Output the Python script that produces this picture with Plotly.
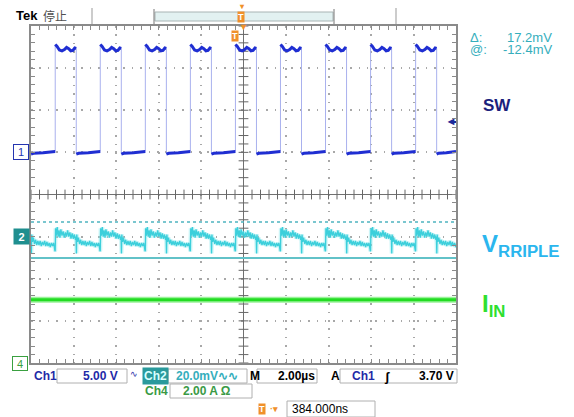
import numpy as np
import plotly.graph_objects as go

# Horizontal: 2.00 us/div, 10 divisions, centre of screen = 0 us
TIME_RANGE_US = [-10.0, 10.0]
DIV_RANGE = [-4.0, 4.0]

# Ch1 (SW node), 5.00 V/div, ground marker at +1 div
CH1_V_PER_DIV = 5.0
CH1_POS_DIV = 1.0
CH1_TRIG_V = 3.70
sw_rise_us = [-8.86, -6.74, -4.62, -2.50, -0.38, 1.74, 3.86, 5.98, 8.10]
sw_fall_us = [-7.87, -5.75, -3.63, -1.51, 0.61, 2.73, 4.85, 6.97, 9.09]
sw_high_phase = [0.00, 0.08, 0.20, 0.32, 0.44, 0.54, 0.64, 0.74, 0.84, 0.93, 1.00]
sw_high_v = [12.8, 12.6, 12.15, 12.05, 12.2, 12.45, 12.3, 12.05, 12.1, 12.4, 12.35]
sw_low_phase = [0.0, 0.1, 0.5, 0.9, 1.0]
sw_low_v = [-0.2, -0.1, -0.05, 0.05, 0.1]

# Ch2 (output ripple, AC), 20.0 mV/div, ground marker at -1 div
CH2_MV_PER_DIV = 20.0
CH2_POS_DIV = -1.0
ripple_phase = [0.000, 0.008, 0.025, 0.045, 0.065, 0.085, 0.105, 0.125, 0.150, 0.175,
                0.200, 0.225, 0.250, 0.275, 0.300, 0.325, 0.350, 0.375, 0.400, 0.425,
                0.450, 0.462, 0.470, 0.478, 0.495, 0.515, 0.540, 0.565, 0.590, 0.615,
                0.640, 0.665, 0.690, 0.715, 0.740, 0.765, 0.790, 0.815, 0.840, 0.865,
                0.890, 0.915, 0.940, 0.965, 0.985, 0.995]
ripple_mv = [-6.5, 4.0, 0.5, 4.5, 0.0, 3.0, -0.5, 3.5, 0.5, 2.5,
             -0.5, 2.0, 0.0, 3.0, 0.0, 2.0, -1.0, 1.5, -1.0, 1.0,
             -1.5, 0.0, -8.0, 1.0, -2.5, -0.5, -3.5, -1.5, -4.0, -2.0,
             -4.0, -2.0, -4.5, -2.5, -4.0, -2.0, -4.5, -2.5, -4.5, -3.0,
             -5.0, -3.0, -4.5, -3.0, -5.0, -7.0]
cursor_top_mv = 7.0
cursor_bot_mv = -10.2

# Ch4 (input current), 2.00 A/div, ground marker at -4 div
CH4_A_PER_DIV = 2.0
CH4_POS_DIV = -4.0
iin_t_us = [-10.0, 10.0]
iin_a = [3.0, 3.0]

# ---------------- build traces ----------------
def ch1(v):
    return CH1_POS_DIV + v / CH1_V_PER_DIV

def ch2(mv):
    return CH2_POS_DIV + mv / CH2_MV_PER_DIV

def ch4(a):
    return CH4_POS_DIV + a / CH4_A_PER_DIV

lx, ly = [], []
starts = [TIME_RANGE_US[0]] + sw_fall_us
ends = sw_rise_us + [TIME_RANGE_US[1]]
for s, e in zip(starts, ends):
    for p, v in zip(sw_low_phase, sw_low_v):
        lx.append(s + p * (e - s)); ly.append(ch1(v))
    lx.append(None); ly.append(None)
for r, f in zip(sw_rise_us, sw_fall_us):
    for p, v in zip(sw_high_phase, sw_high_v):
        lx.append(r + p * (f - r)); ly.append(ch1(v))
    lx.append(None); ly.append(None)

ex, ey = [], []
for r in sw_rise_us:
    ex += [r, r, None]; ey += [ch1(sw_low_v[-1]), ch1(sw_high_v[0]), None]
for f in sw_fall_us:
    ex += [f, f, None]; ey += [ch1(sw_high_v[-1]), ch1(sw_low_v[0]), None]

period = sw_rise_us[1] - sw_rise_us[0]
rx, ry = [], []
for r in [sw_rise_us[0] - period] + sw_rise_us:
    for p, m in zip(ripple_phase, ripple_mv):
        rx.append(r + p * period); ry.append(ch2(m))

fig = go.Figure()

# centre crosshair tick marks
xt = np.arange(TIME_RANGE_US[0], TIME_RANGE_US[1] + 1e-9, 0.4)
yt = np.arange(DIV_RANGE[0], DIV_RANGE[1] + 1e-9, 0.2)
fig.add_trace(go.Scatter(x=xt, y=np.zeros_like(xt), mode="markers",
                         marker=dict(symbol="line-ns", size=7, line=dict(width=1, color="#666666"))))
fig.add_trace(go.Scatter(x=np.zeros_like(yt), y=yt, mode="markers",
                         marker=dict(symbol="line-ew", size=7, line=dict(width=1, color="#666666"))))

# cursors
fig.add_trace(go.Scatter(x=TIME_RANGE_US, y=[ch2(cursor_top_mv)] * 2, mode="lines",
                         line=dict(color="#4fb4c0", width=1.5, dash="3px,3px")))
fig.add_trace(go.Scatter(x=TIME_RANGE_US, y=[ch2(cursor_bot_mv)] * 2, mode="lines",
                         line=dict(color="#62c2c8", width=2)))

# Ch4
fig.add_trace(go.Scatter(x=iin_t_us, y=[ch4(a) for a in iin_a], mode="lines",
                         line=dict(color="rgba(120,238,120,0.75)", width=6)))
fig.add_trace(go.Scatter(x=iin_t_us, y=[ch4(a) for a in iin_a], mode="lines",
                         line=dict(color="#22dc22", width=3)))

# Ch2 ripple
fig.add_trace(go.Scatter(x=rx, y=ry, mode="lines",
                         line=dict(color="rgba(140,232,238,0.45)", width=4)))
fig.add_trace(go.Scatter(x=rx, y=ry, mode="lines",
                         line=dict(color="#3ccfdb", width=1.3)))

# Ch1 SW
fig.add_trace(go.Scatter(x=ex, y=ey, mode="lines",
                         line=dict(color="#a9b1ee", width=1)))
fig.add_trace(go.Scatter(x=lx, y=ly, mode="lines",
                         line=dict(color="#1f2ed2", width=3)))

# ---------------- layout ----------------
W, H = 574, 417
L, R, TOP, BOT = 31, 456, 26, 363

def px(x):
    return (x - L) / (R - L)

def py(y):
    return (BOT - y) / (BOT - TOP)

FONT = "Liberation Sans, Arial, sans-serif"
ann = []

def text(x, y, s, color="#000", size=12, xanchor="left", bold=True, **kw):
    ann.append(dict(x=px(x), y=py(y), xref="paper", yref="paper", text=s, showarrow=False,
                    xanchor=xanchor, yanchor="middle",
                    font=dict(family=kw.pop("family", FONT), size=size, color=color,
                              weight="bold" if bold else "normal"), **kw))

# top bar
text(14, 15, "Tek", size=13)
text(41, 15, "停止", color="#505050", size=12, bold=False, family="Noto Sans CJK SC")
text(241, 17, "T", color="#ffffff", size=9, xanchor="center", bgcolor="#f0902a", borderpad=0)
text(242, 7, "▾", color="#f0902a", size=8, xanchor="center")
text(243, 27, "▾", color="#f0902a", size=10, xanchor="center")
text(235, 36, "T", color="#ffffff", size=9, xanchor="center", bgcolor="#f0902a", borderpad=0)

# cursor readout
text(468, 37, "Δ:", color="#35aebc", size=13, bold=False)
text(554, 37, "17.2mV", color="#35aebc", size=13, xanchor="right", bold=False)
text(468, 49, "@:", color="#35aebc", size=13, bold=False)
text(554, 49, "-12.4mV", color="#35aebc", size=13, xanchor="right", bold=False)

# channel markers
text(21, 152, "1", color="#2535b0", size=11, xanchor="center", bgcolor="#ffffff",
     bordercolor="#2535b0", borderwidth=1, borderpad=1, bold=False, width=12, height=12)
text(21, 236, "2", color="#ffffff", size=11, xanchor="center", bgcolor="#1f8f8f",
     borderpad=1, width=13, height=13)
text(20, 363, "4", color="#3aa040", size=11, xanchor="center", bgcolor="#ffffff",
     bordercolor="#3aa040", borderwidth=1, borderpad=1, bold=False, width=12, height=11)
text(451, 122, "◀", color="#1a2a9a", size=8, xanchor="center")

# signal labels
text(481, 105, "SW", color="#1b217c", size=17)
text(480, 245, "V<sub>RRIPLE</sub>", color="#2bb6ee", size=24)
text(480, 305, "I<sub>IN</sub>", color="#2fdf2f", size=24)

# bottom status
text(32, 376, "Ch1", color="#1f2aa8", size=12)
text(120, 376, "5.00 V", color="#1f2aa8", size=12, xanchor="right")
text(128, 374, "∿", color="#1f2aa8", size=9, bold=False)
text(155, 376, "Ch2", color="#d8ffff", size=12, xanchor="center", bgcolor="#2a9a9c", borderpad=1)
text(174, 376, "20.0mV∿∿", color="#35aebc", size=12)
text(248, 376, "M", color="#000", size=12)
text(317, 376, "2.00µs", color="#000", size=12, xanchor="right")
text(329, 376, "A", color="#000", size=12)
text(350, 376, "Ch1", color="#1f2aa8", size=12)
text(387, 376, "ʃ", color="#000", size=13, xanchor="center")
text(456, 376, "3.70 V", color="#000", size=12, xanchor="right")
text(143, 391, "Ch4", color="#3a9a45", size=12)
text(181, 391, "2.00 A Ω", color="#3a9a45", size=12)
text(262, 409, "T", color="#ffffff", size=9, xanchor="center", bgcolor="#f0902a", borderpad=0)
text(274, 409, "·▾", color="#f0902a", size=9, xanchor="center")
text(290, 409, "384.000ns", color="#000", size=12, bold=False)

shapes = []

def rect(x0, y0, x1, y1, line="#b0b0b0", fill="rgba(0,0,0,0)", w=1):
    shapes.append(dict(type="rect", xref="paper", yref="paper",
                       x0=px(x0), x1=px(x1), y0=py(y1), y1=py(y0),
                       line=dict(color=line, width=w), fillcolor=fill, layer="above"))

def vline(x, y0, y1, color="#999", w=1):
    shapes.append(dict(type="line", xref="paper", yref="paper",
                       x0=px(x), x1=px(x), y0=py(y0), y1=py(y1),
                       line=dict(color=color, width=w)))

def hline(x0, x1, y, color="#999", w=1):
    shapes.append(dict(type="line", xref="paper", yref="paper",
                       x0=px(x0), x1=px(x1), y0=py(y), y1=py(y),
                       line=dict(color=color, width=w)))

rect(155, 12, 333, 21, line="#a8b4b4", fill="#e2f1f1")
vline(154, 9, 24, "#777")
vline(334, 9, 24, "#777")
vline(92, 8, 24, "#999")
vline(396, 8, 24, "#999")
hline(451, 456, 122, "#1a2a9a", 2)
rect(57, 369, 127, 383)
rect(168, 369, 247, 383)
rect(257, 369, 317, 383)
rect(340, 369, 457, 383)
rect(170, 384, 252, 398)
rect(287, 401, 375, 417)

axis_common = dict(showline=True, linecolor="#8a8a8a", linewidth=2, mirror="ticks",
                   ticks="inside", ticklen=4, tickcolor="#8a8a8a", tickwidth=1,
                   showticklabels=False, showgrid=True, gridcolor="#a8a8a8",
                   gridwidth=1.5, griddash="1.5px,6.9px",
                   zeroline=True, zerolinecolor="#707070", zerolinewidth=1,
                   fixedrange=True)

fig.update_layout(
    width=W, height=H,
    margin=dict(l=L, r=W - R, t=TOP, b=H - BOT, pad=0),
    paper_bgcolor="#ffffff", plot_bgcolor="#ffffff",
    showlegend=False, hovermode=False,
    xaxis=dict(range=TIME_RANGE_US, dtick=2, tick0=0,
               minor=dict(dtick=0.4, ticks="inside", ticklen=4, tickcolor="#8a8a8a", showgrid=False),
               **axis_common),
    yaxis=dict(range=DIV_RANGE, dtick=1, tick0=0,
               minor=dict(dtick=0.2, ticks="inside", ticklen=4, tickcolor="#8a8a8a", showgrid=False),
               **axis_common),
    annotations=ann, shapes=shapes,
)

fig.write_html("out.html", config={"displayModeBar": False},
               post_script="document.body.style.margin='0px';document.body.style.overflow='hidden';")
